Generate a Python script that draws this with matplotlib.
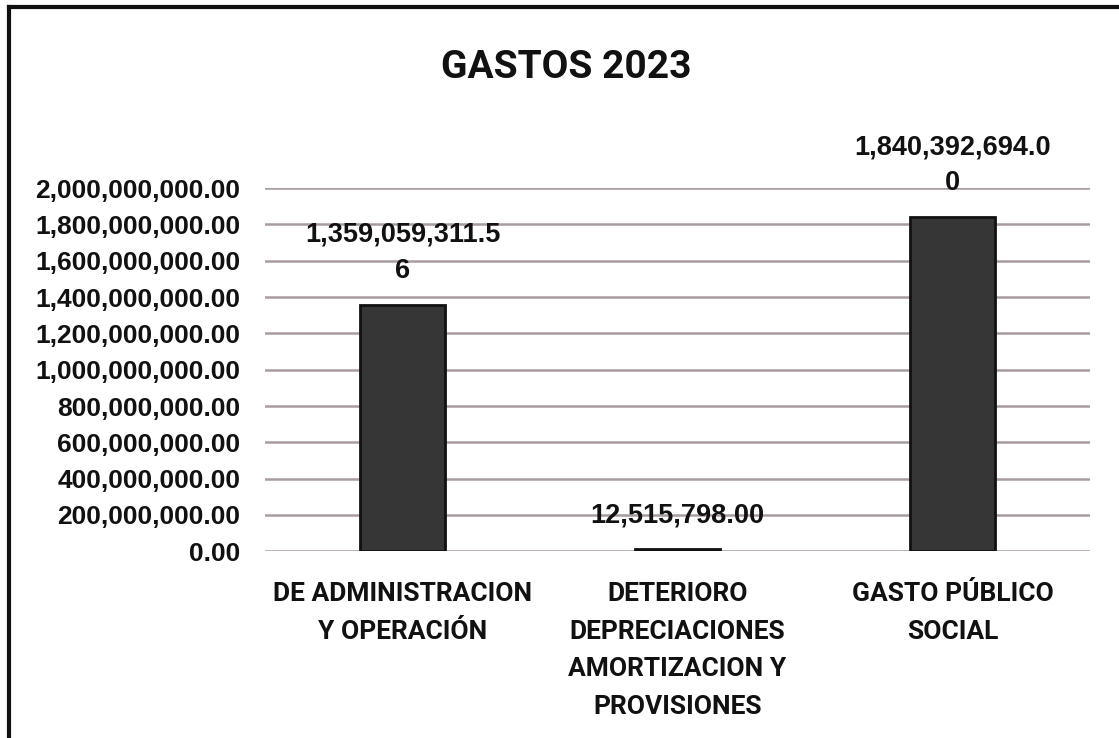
import numpy as np
import matplotlib.pyplot as plt
from matplotlib.lines import Line2D
from matplotlib.ticker import FuncFormatter

categorias = [
    "DE ADMINISTRACION\nY OPERACIÓN",
    "DETERIORO\nDEPRECIACIONES\nAMORTIZACION Y\nPROVISIONES",
    "GASTO PÚBLICO\nSOCIAL",
]
gastos = [1359059311.56, 12515798.00, 1840392694.00]
y_ticks = np.arange(0, 2000000001, 200000000)

NARROW = ["Liberation Sans Narrow", "Roboto", "Liberation Sans"]
NUM_FONT = ["Liberation Sans", "DejaVu Sans"]


def etiqueta(v, ancho=15):
    # valor con miles y dos decimales, partido en renglones como en la hoja
    s = f"{v:,.2f}"
    return "\n".join(s[i:i + ancho] for i in range(0, len(s), ancho))


fig = plt.figure(figsize=(11.19, 7.38), dpi=100)
ax = fig.add_axes([0.237, 0.253, 0.737, 0.492])

x = np.arange(len(categorias))
bars = ax.bar(x, gastos, width=0.31, color="#363636", edgecolor="#111111",
              linewidth=2, zorder=3)

for b, v in zip(bars, gastos):
    ax.annotate(etiqueta(v), (b.get_x() + b.get_width() / 2, v),
                xytext=(0, 15), textcoords="offset points",
                ha="center", va="bottom", fontsize=19.5, fontweight="bold",
                family=NUM_FONT, linespacing=1.5, color="#111111", zorder=4)

ax.set_xlim(-0.5, 2.5)
ax.set_ylim(0, 2000000000)
ax.set_yticks(y_ticks)
ax.yaxis.set_major_formatter(FuncFormatter(lambda v, p: f"{v:,.2f}"))
ax.yaxis.grid(True, color="#a89ca0", linewidth=1.8, zorder=0)
ax.set_axisbelow(True)
for lbl in ax.get_yticklabels():
    lbl.set_family(NUM_FONT)
    lbl.set_fontweight("bold")
    lbl.set_fontsize(19)
    lbl.set_color("#111111")

ax.set_xticks(x)
ax.set_xticklabels(categorias, family=NARROW, fontweight="bold",
                   fontsize=19, linespacing=1.72, color="#111111", va="top")
ax.tick_params(axis="both", length=0)
ax.tick_params(axis="y", pad=18)
ax.tick_params(axis="x", pad=22)
for s in ax.spines.values():
    s.set_visible(False)

fig.text(0.506, 0.909, "GASTOS 2023", ha="center", va="center",
         family=NARROW, fontweight="bold", fontsize=28, color="#111111")

# marco de la hoja
fig.add_artist(Line2D([0.008, 1.0], [0.99, 0.99], transform=fig.transFigure,
                      color="#111111", linewidth=3))
fig.add_artist(Line2D([0.008, 0.008], [0.0, 0.99], transform=fig.transFigure,
                      color="#111111", linewidth=3))

fig.savefig("out.png", dpi=100)
